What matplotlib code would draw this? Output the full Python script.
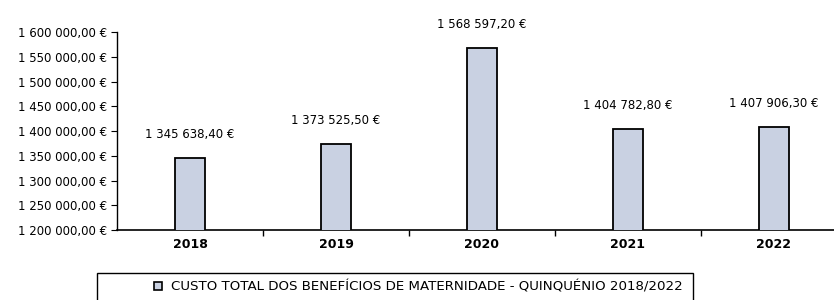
import matplotlib
matplotlib.use("Agg")
import matplotlib.pyplot as plt
from matplotlib.ticker import FuncFormatter, FixedLocator, MultipleLocator
from matplotlib.patches import Rectangle
from matplotlib.lines import Line2D

plt.rcParams['font.family'] = ['Liberation Sans Narrow', 'DejaVu Sans Condensed', 'DejaVu Sans']

years = ["2018", "2019", "2020", "2021", "2022"]
values = [1345638.40, 1373525.50, 1568597.20, 1404782.80, 1407906.30]
legend_label = "CUSTO TOTAL DOS BENEFÍCIOS DE MATERNIDADE - QUINQUÉNIO 2018/2022"

def eur(v, pos=None):
    s = f"{v:,.2f}"
    s = s.replace(",", " ").replace(".", ",")
    return s + " €"

fig = plt.figure(figsize=(8.34, 3.0), dpi=100)
ax = fig.add_axes([117/834, 70/300, 730/834, 198/300])

x = list(range(len(years)))
bars = ax.bar(x, values, width=0.2, color="#c9d1e2", edgecolor="black", linewidth=1.3,
              bottom=0, zorder=3)
ax.set_ylim(1200000, 1600000)
ax.set_xlim(-0.5, len(years) - 0.5)

ax.yaxis.set_major_locator(MultipleLocator(50000))
ax.yaxis.set_major_formatter(FuncFormatter(eur))
ax.set_xticks(x)
ax.set_xticklabels(years, fontweight="bold", fontsize=9)
ax.xaxis.set_minor_locator(FixedLocator([i + 0.5 for i in x[:-1]]))
ax.tick_params(axis="x", which="major", length=0, pad=6)
ax.tick_params(axis="x", which="minor", length=4, direction="out", width=1)
ax.tick_params(axis="y", length=4, direction="out", labelsize=8.5, pad=3)

for s in ["top", "right"]:
    ax.spines[s].set_visible(False)
ax.spines["left"].set_linewidth(1.0)
ax.spines["bottom"].set_linewidth(1.2)

for xi, v in zip(x, values):
    ax.annotate(eur(v), (xi, v), xytext=(0, 12), textcoords="offset points",
                ha="center", va="bottom", fontsize=8.5)

# legend box
fig.patches.append(Rectangle((97/834, -0.05), (693-97)/834, 0.05 + 27/300,
                             transform=fig.transFigure, fill=False,
                             edgecolor="black", linewidth=1.0))
handle = Line2D([], [], marker="s", linestyle="none", markersize=6,
                markerfacecolor="#c9d1e2", markeredgecolor="black", markeredgewidth=1.2)
fig.legend([handle], [legend_label], loc="center",
           bbox_to_anchor=(417/834, 1 - 287/300), frameon=False, fontsize=9.6,
           handletextpad=0.5, borderpad=0, handlelength=1.0)

fig.savefig("out.png", dpi=100, facecolor="white")
